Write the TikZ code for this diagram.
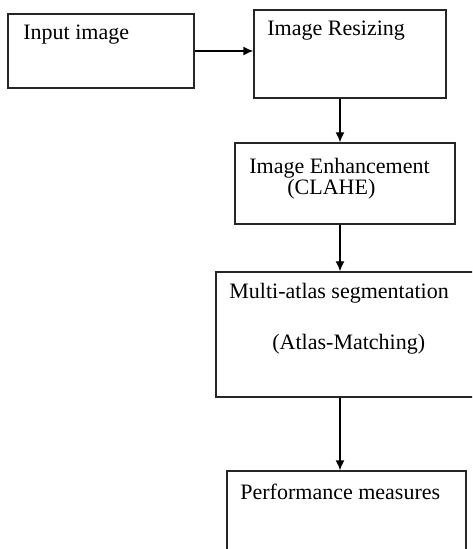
\documentclass[tikz,border=0pt]{standalone}
\usepackage{fontspec}
\setmainfont{Liberation Serif}
\usetikzlibrary{arrows.meta}

\tikzset{
	box/.style={draw=black!85,line width=0.7pt,inner sep=0pt},
	lbl/.style={anchor=base west,inner sep=0pt,font=\fontsize{11}{13}\selectfont},
	arr/.style={-{Latex[length=5pt,width=4.5pt]},line width=0.7pt}
}

\begin{document}
\begin{tikzpicture}[x=0.5pt,y=-0.5pt]
	\useasboundingbox (0,0) rectangle (472,549);
	\clip (0,0) rectangle (472,549);
	%boxes
	\node[box,minimum width=93pt,minimum height=37pt]   (input)  at (101,51)    {};
	\node[box,minimum width=96pt,minimum height=44pt]   (resize) at (350,54)    {};
	\node[box,minimum width=110pt,minimum height=40.5pt] (enhance) at (345,183.5) {};
	\node[box,minimum width=131pt,minimum height=62.5pt] (atlas)  at (347,334.5) {};
	\node[box,minimum width=119.5pt,minimum height=46pt] (perf)   at (346.5,517) {};
	
	%inner labels
	\node[lbl] (t1) at (23,40)  {Input image};
	\node[lbl] (t2) at (267,36) {Image Resizing};
	\node[lbl] (t3) at (249,174) {Image Enhancement};
	\node[lbl] (t4) at (287,195) {(CLAHE)};
	\node[lbl] (t5) at (229,299) {Multi-atlas segmentation};
	\node[lbl] (t6) at (272,349) {(Atlas-Matching)};
	\node[lbl] (t7) at (240,499) {Performance measures};
	
	%arrows
	\coordinate (col) at (340,0);
	\draw[arr] (input.east) -- (resize.west |- input.east);
	\draw[arr] (resize.south -| col) -- (enhance.north -| col);
	\draw[arr] (enhance.south -| col) -- (atlas.north -| col);
	\draw[arr] (atlas.south -| col) -- (perf.north -| col);
\end{tikzpicture}
\end{document}
